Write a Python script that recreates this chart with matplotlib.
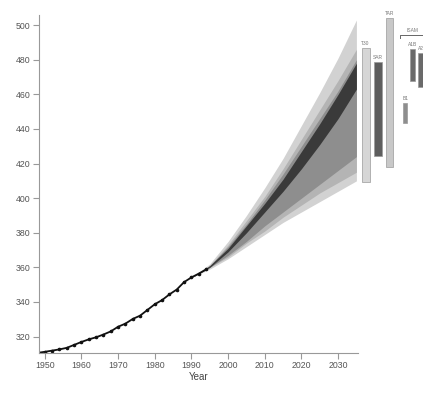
import matplotlib
matplotlib.use("Agg")
import matplotlib.pyplot as plt
import numpy as np

plt.rcParams['font.family'] = ['Liberation Sans', 'DejaVu Sans']

# Observed CO2 (ppm)
obs_years = [1948, 1950, 1952, 1954, 1956, 1958, 1960, 1962, 1964, 1966, 1968,
             1970, 1972, 1974, 1976, 1978, 1980, 1982, 1984, 1986, 1988, 1990,
             1992, 1994]
obs_co2 = [310.6, 311.2, 311.9, 312.6, 313.5, 315.2, 316.9, 318.4, 319.6, 321.2,
           323.0, 325.7, 327.5, 330.2, 332.1, 335.4, 338.7, 341.1, 344.4, 347.2,
           351.5, 354.2, 356.4, 358.8]

# Projection envelopes
proj_years = [1990, 1995, 2000, 2005, 2010, 2015, 2020, 2025, 2030, 2035]
outer_hi = [354, 362, 375, 390, 406, 423, 442, 461, 481, 503]
outer_lo = [354, 359, 365, 372, 379, 386, 392, 398, 404, 410]
mid_hi = [354, 361, 373, 387, 401, 417, 434, 451, 468, 486]
mid_lo = [354, 360, 366, 374, 381, 389, 396, 403, 409, 415]
inner_hi = [354, 361, 372, 385, 399, 414, 430, 446, 462, 480]
inner_lo = [354, 360, 367, 375, 384, 392, 400, 408, 416, 424]
core_hi = [354, 361, 371, 384, 397, 411, 427, 443, 460, 478]
core_lo = [354, 360, 369, 380, 392, 404, 417, 431, 446, 463]

# Range bars (low, high) at 2035
bar_labels = ["T30", "SAR", "TAR", "B1", "A1B", "A2"]
bar_low = [409.6, 424.5, 418.0, 443.6, 468.0, 464.0]
bar_high = [486.7, 478.7, 504.0, 455.0, 486.0, 484.0]
bracket_label = "ISAM"

ticks_x = [1950, 1960, 1970, 1980, 1990, 2000, 2010, 2020, 2030]
ticks_y = [320, 340, 360, 380, 400, 420, 440, 460, 480, 500]

fig = plt.figure(figsize=(4.23, 3.98), dpi=100)
ax = fig.add_axes([0.092, 0.113, 0.754, 0.849])

ax.fill_between(proj_years, outer_lo, outer_hi, color="#d2d2d2", lw=0)
ax.fill_between(proj_years, mid_lo, mid_hi, color="#b4b4b4", lw=0)
ax.fill_between(proj_years, inner_lo, inner_hi, color="#8e8e8e", lw=0)
ax.fill_between(proj_years, core_lo, core_hi, color="#3a3a3a", lw=0)

ax.plot(obs_years, obs_co2, color="#111111", lw=1.3, marker="o", ms=1.6,
        markevery=1)

# Range bars outside axes
bar_pos = [2036.4, 2039.7, 2043.2, 2047.8, 2049.7, 2051.9]
bar_w = [2.2, 2.2, 1.7, 1.1, 1.4, 1.4]
bar_col = ["#d6d6d6", "#5e5e5e", "#c8c8c8", "#8e8e8e", "#6a6a6a", "#6a6a6a"]
for lab, lo, hi, x0, w, c in zip(bar_labels, bar_low, bar_high, bar_pos, bar_w, bar_col):
    ax.bar(x0, hi - lo, bottom=lo, width=w, align="edge", color=c,
           edgecolor="#9a9a9a", lw=0.5, clip_on=False)
    ax.text(x0 + w / 2, hi + 1.2, lab, fontsize=3.5, color="#777777",
            ha="center", va="bottom", clip_on=False)

ax.plot([2047.0, 2047.0, 2053.5], [492.5, 494.5, 494.5], color="#666666",
        lw=0.7, clip_on=False)
ax.text(2050.2, 495.5, bracket_label, fontsize=3.5, color="#777777",
        ha="center", va="bottom", clip_on=False)

ax.set_xlim(1948.4, 2035.4)
ax.set_ylim(310.5, 505.8)
ax.set_xticks(ticks_x)
ax.set_yticks(ticks_y)
for s in ["top", "right"]:
    ax.spines[s].set_visible(False)
for s in ["left", "bottom"]:
    ax.spines[s].set_color("#999999")
    ax.spines[s].set_linewidth(0.8)
ax.tick_params(axis="both", direction="out", length=4, width=0.8,
               color="#999999", labelsize=6.3, labelcolor="#555555", pad=2)
ax.set_xlabel("Year", fontsize=7, color="#444444", labelpad=1)

fig.savefig("out.png", dpi=100)
